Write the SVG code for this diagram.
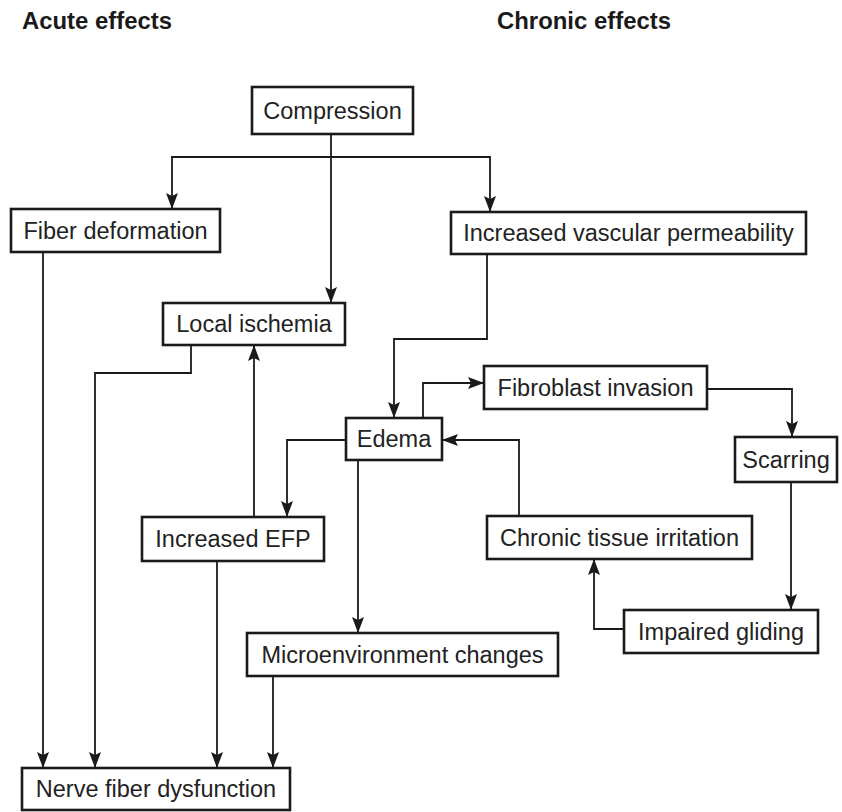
<svg xmlns="http://www.w3.org/2000/svg" width="842" height="812" viewBox="0 0 842 812">
  <style>
    .box { fill: #ffffff; stroke: #1a1a1a; stroke-width: 2.6; }
    .lbl { font-family: "Liberation Sans", Arial, sans-serif; font-size: 23.5px; fill: #222222; text-anchor: middle; }
    .hdr { font-family: "Liberation Sans", Arial, sans-serif; font-weight: bold; font-size: 24px; fill: #1a1a1a; }
    .wire { fill: none; stroke: #1a1a1a; stroke-width: 1.8; }
  </style>
  <defs>
    <marker id="arrow" viewBox="0 0 16 12" refX="16" refY="6" markerWidth="16" markerHeight="12" markerUnits="userSpaceOnUse" orient="auto">
      <path d="M0,0 L16,6 L0,12 L3,6 Z" fill="#1a1a1a"/>
    </marker>
  </defs>
  <rect width="842" height="812" fill="#ffffff"/>

  <!-- column headings -->
  <text class="hdr" x="22" y="29" textLength="150" lengthAdjust="spacingAndGlyphs">Acute effects</text>
  <text class="hdr" x="497" y="29" textLength="174" lengthAdjust="spacingAndGlyphs">Chronic effects</text>

  <!-- connectors -->
  <g id="connectors">
    <path class="wire" d="M331,134 V303" marker-end="url(#arrow)"/>
    <path class="wire" d="M331,157 H172 V209" marker-end="url(#arrow)"/>
    <path class="wire" d="M331,157 H490 V212" marker-end="url(#arrow)"/>
    <path class="wire" d="M487,254 V339 H394 V418" marker-end="url(#arrow)"/>
    <path class="wire" d="M423,418 V383 H484" marker-end="url(#arrow)"/>
    <path class="wire" d="M707,389 H792 V437" marker-end="url(#arrow)"/>
    <path class="wire" d="M791,482 V610" marker-end="url(#arrow)"/>
    <path class="wire" d="M624,629 H594 V559" marker-end="url(#arrow)"/>
    <path class="wire" d="M519,516 V440 H442" marker-end="url(#arrow)"/>
    <path class="wire" d="M346,440 H287 V517" marker-end="url(#arrow)"/>
    <path class="wire" d="M254,517 V345" marker-end="url(#arrow)"/>
    <path class="wire" d="M358,460 V633" marker-end="url(#arrow)"/>
    <path class="wire" d="M43,252 V768" marker-end="url(#arrow)"/>
    <path class="wire" d="M191,345 V373 H95 V768" marker-end="url(#arrow)"/>
    <path class="wire" d="M217,561 V768" marker-end="url(#arrow)"/>
    <path class="wire" d="M273,676 V768" marker-end="url(#arrow)"/>
  </g>

  <!-- nodes -->
  <g id="compression">
    <rect class="box" x="252" y="87" width="161" height="47"/>
    <text class="lbl" x="332.5" y="118.5">Compression</text>
  </g>
  <g id="fiber-deformation">
    <rect class="box" x="11" y="209" width="209" height="43"/>
    <text class="lbl" x="115.5" y="239">Fiber deformation</text>
  </g>
  <g id="vascular-permeability">
    <rect class="box" x="451" y="212" width="355" height="42"/>
    <text class="lbl" x="628.5" y="241">Increased vascular permeability</text>
  </g>
  <g id="local-ischemia">
    <rect class="box" x="163" y="303" width="182" height="42"/>
    <text class="lbl" x="254" y="332">Local ischemia</text>
  </g>
  <g id="edema">
    <rect class="box" x="346" y="418" width="96" height="42"/>
    <text class="lbl" x="394" y="447">Edema</text>
  </g>
  <g id="fibroblast-invasion">
    <rect class="box" x="484" y="366" width="223" height="43"/>
    <text class="lbl" x="595.5" y="395.5">Fibroblast invasion</text>
  </g>
  <g id="scarring">
    <rect class="box" x="735" y="437" width="102" height="45"/>
    <text class="lbl" x="786" y="467.5">Scarring</text>
  </g>
  <g id="increased-efp">
    <rect class="box" x="142" y="517" width="182" height="44"/>
    <text class="lbl" x="233" y="547">Increased EFP</text>
  </g>
  <g id="chronic-irritation">
    <rect class="box" x="487" y="516" width="265" height="43"/>
    <text class="lbl" x="619.5" y="545.5">Chronic tissue irritation</text>
  </g>
  <g id="impaired-gliding">
    <rect class="box" x="624" y="610" width="194" height="43"/>
    <text class="lbl" x="721" y="639.5">Impaired gliding</text>
  </g>
  <g id="microenvironment">
    <rect class="box" x="247" y="633" width="311" height="43"/>
    <text class="lbl" x="402.5" y="662.5">Microenvironment changes</text>
  </g>
  <g id="nerve-dysfunction">
    <rect class="box" x="22" y="768" width="268" height="42"/>
    <text class="lbl" x="156" y="797">Nerve fiber dysfunction</text>
  </g>
</svg>
